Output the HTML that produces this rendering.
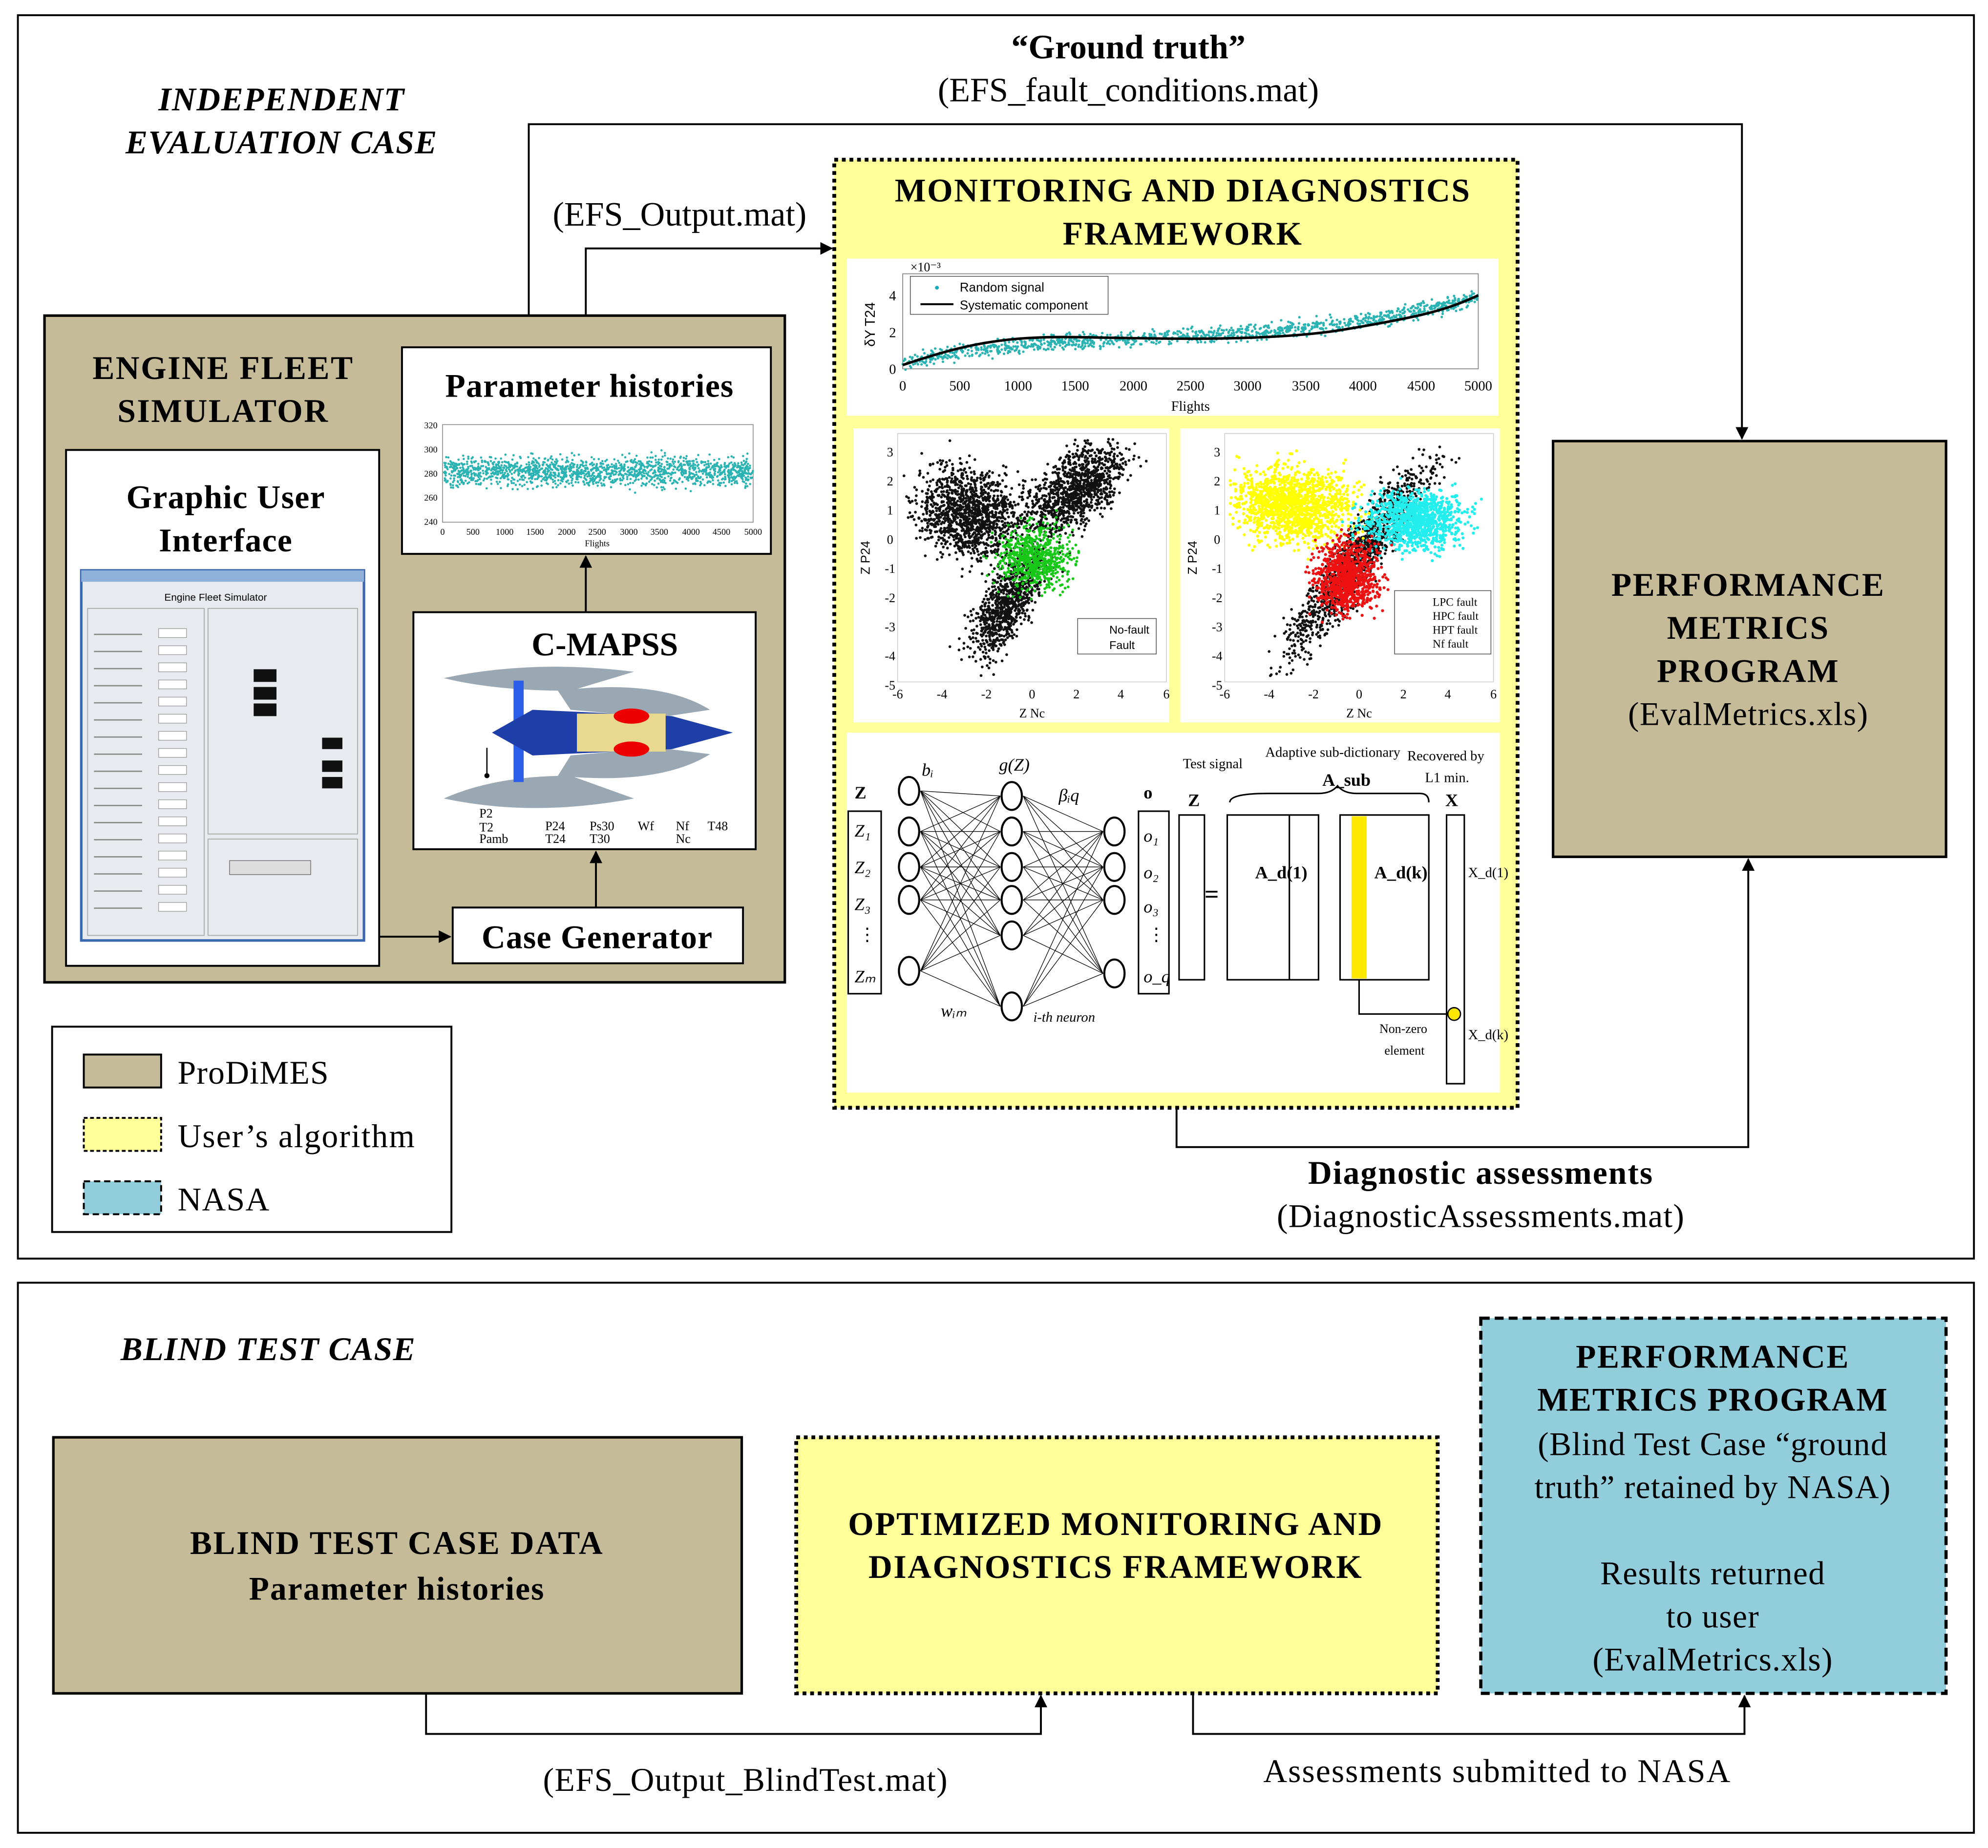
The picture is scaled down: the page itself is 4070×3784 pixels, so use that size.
<!DOCTYPE html>
<html><head><meta charset="utf-8"><style>
html,body{margin:0;padding:0;background:#fff}
svg{display:block}
text{font-family:"Liberation Serif",serif;fill:#000}
.s{font-family:"Liberation Sans",sans-serif}
</style></head><body>
<svg id="d" width="4070" height="3784" viewBox="0 0 1568 1458" xmlns="http://www.w3.org/2000/svg">
<defs>
<marker id="ar" markerWidth="10" markerHeight="10" refX="9" refY="5" orient="auto" markerUnits="userSpaceOnUse"><path d="M0,0 L10,5 L0,10 z" fill="#000"/></marker>
</defs>
<rect width="1568" height="1458" fill="#fff"/>
<rect x="14" y="12" width="1543" height="981" fill="none" stroke="#000" stroke-width="1.5"/>
<rect x="14" y="1012" width="1543" height="434" fill="none" stroke="#000" stroke-width="1.5"/>

<text x="222" y="87" font-size="26" font-weight="bold" font-style="italic" text-anchor="middle" letter-spacing="0.6">INDEPENDENT</text>
<text x="222" y="121" font-size="26" font-weight="bold" font-style="italic" text-anchor="middle" letter-spacing="0.6">EVALUATION CASE</text>
<text x="890" y="46" font-size="27" font-weight="bold" text-anchor="middle">“Ground truth”</text>
<text x="890" y="80" font-size="27" text-anchor="middle">(EFS_fault_conditions.mat)</text>
<text x="536" y="178" font-size="27" text-anchor="middle">(EFS_Output.mat)</text>

<polyline points="417,273 417,98 1374,98 1374,346" fill="none" stroke="#000" stroke-width="1.5" marker-end="url(#ar)"/>
<polyline points="462,273 462,196 656,196" fill="none" stroke="#000" stroke-width="1.5" marker-end="url(#ar)"/>
<polyline points="928,874 928,905 1379,905 1379,678" fill="none" stroke="#000" stroke-width="1.5" marker-end="url(#ar)"/>

<rect x="35" y="249" width="584" height="526" fill="#c6bb98" stroke="#000" stroke-width="2"/>
<text x="176" y="299" font-size="26" font-weight="bold" text-anchor="middle" letter-spacing="1">ENGINE FLEET</text>
<text x="176" y="333" font-size="26" font-weight="bold" text-anchor="middle" letter-spacing="1">SIMULATOR</text>
<rect x="52" y="355" width="247" height="407" fill="#fff" stroke="#000" stroke-width="1.5"/>
<text x="178" y="401" font-size="26" font-weight="bold" text-anchor="middle" letter-spacing="0.5">Graphic User</text>
<text x="178" y="435" font-size="26" font-weight="bold" text-anchor="middle" letter-spacing="0.5">Interface</text>
<g id="gui">
<rect x="64" y="450" width="223" height="292" fill="#e8eaf0" stroke="#3a68b0" stroke-width="2"/>
<rect x="64" y="450" width="223" height="9" fill="#8fb0d8"/>
<text x="170" y="474" font-size="8" class="s" text-anchor="middle">Engine Fleet Simulator</text>
<rect x="69" y="480" width="92" height="258" fill="none" stroke="#aaa" stroke-width="0.7"/>
<rect x="164" y="480" width="118" height="178" fill="none" stroke="#aaa" stroke-width="0.7"/>
<rect x="164" y="662" width="118" height="76" fill="none" stroke="#aaa" stroke-width="0.7"/>
<rect x="181" y="679" width="64" height="11" fill="#ddd" stroke="#777" stroke-width="0.6"/>
<rect x="200" y="528" width="18" height="10" fill="#111"/><rect x="200" y="542" width="18" height="10" fill="#111"/><rect x="200" y="555" width="18" height="10" fill="#111"/>
<rect x="254" y="582" width="16" height="9" fill="#111"/><rect x="254" y="600" width="16" height="9" fill="#111"/><rect x="254" y="613" width="16" height="9" fill="#111"/>
<g id="guirows"></g>
</g>
<rect x="317" y="274" width="291" height="163" fill="#fff" stroke="#000" stroke-width="1.5"/>
<text x="465" y="313" font-size="26" font-weight="bold" text-anchor="middle" letter-spacing="0.5">Parameter histories</text>
<rect x="349" y="335" width="245" height="77" fill="none" stroke="#888" stroke-width="0.6"/>
<g font-size="7" class="s">
<text x="345" y="338" text-anchor="end">320</text><text x="345" y="357" text-anchor="end">300</text><text x="345" y="376" text-anchor="end">280</text><text x="345" y="395" text-anchor="end">260</text><text x="345" y="414" text-anchor="end">240</text>
<text x="349" y="422" text-anchor="middle">0</text><text x="373" y="422" text-anchor="middle">500</text><text x="398" y="422" text-anchor="middle">1000</text><text x="422" y="422" text-anchor="middle">1500</text><text x="447" y="422" text-anchor="middle">2000</text><text x="471" y="422" text-anchor="middle">2500</text><text x="496" y="422" text-anchor="middle">3000</text><text x="520" y="422" text-anchor="middle">3500</text><text x="545" y="422" text-anchor="middle">4000</text><text x="569" y="422" text-anchor="middle">4500</text><text x="594" y="422" text-anchor="middle">5000</text>
<text x="471" y="431" text-anchor="middle">Flights</text>
</g>
<line x1="462" y1="483" x2="462" y2="439" stroke="#000" stroke-width="1.5" marker-end="url(#ar)"/>
<rect x="326" y="483" width="270" height="187" fill="#fff" stroke="#000" stroke-width="1.5"/>
<text x="477" y="517" font-size="26" font-weight="bold" text-anchor="middle">C-MAPSS</text>
<g>
<path d="M350,535 Q420,520 500,530 L450,545 Q390,545 350,535z" fill="#9aa8b4"/>
<path d="M350,630 Q420,645 500,630 L450,612 Q390,612 350,630z" fill="#9aa8b4"/>
<path d="M440,545 Q520,535 560,560 L520,566 L450,560z" fill="#9aa8b4"/>
<path d="M440,612 Q520,620 560,595 L520,590 L450,596z" fill="#9aa8b4"/>
<rect x="405" y="537" width="8" height="80" fill="#2a5ee8"/>
<path d="M388,578 L420,560 L530,565 L578,578 L530,591 L420,596z" fill="#1f3fa8"/>
<rect x="455" y="563" width="70" height="30" fill="#e8d890"/>
<ellipse cx="498" cy="565" rx="14" ry="6" fill="#e00"/><ellipse cx="498" cy="591" rx="14" ry="6" fill="#e00"/>
<line x1="384" y1="590" x2="384" y2="612" stroke="#000"/><circle cx="384" cy="612" r="2"/>
</g>
<g font-size="10" class="s">
<text x="378" y="645">P2</text><text x="378" y="656">T2</text><text x="378" y="665">Pamb</text>
<text x="430" y="655">P24</text><text x="430" y="665">T24</text>
<text x="465" y="655">Ps30</text><text x="465" y="665">T30</text>
<text x="503" y="655">Wf</text><text x="533" y="655">Nf</text><text x="533" y="665">Nc</text><text x="558" y="655">T48</text>
</g>
<line x1="470" y1="716" x2="470" y2="672" stroke="#000" stroke-width="1.5" marker-end="url(#ar)"/>
<rect x="357" y="716" width="229" height="44" fill="#fff" stroke="#000" stroke-width="1.5"/>
<text x="471" y="748" font-size="26" font-weight="bold" text-anchor="middle" letter-spacing="0.5">Case Generator</text>
<line x1="299" y1="739" x2="355" y2="739" stroke="#000" stroke-width="1.5" marker-end="url(#ar)"/>

<rect x="41" y="810" width="315" height="162" fill="#fff" stroke="#000" stroke-width="1.5"/>
<rect x="66" y="832" width="61" height="26" fill="#c6bb98" stroke="#000" stroke-width="1.5"/>
<rect x="66" y="882" width="61" height="26" fill="#ffff99" stroke="#000" stroke-width="1.5" stroke-dasharray="3,2"/>
<rect x="66" y="932" width="61" height="26" fill="#92cddc" stroke="#000" stroke-width="1.5" stroke-dasharray="5,3"/>
<text x="140" y="855" font-size="26" letter-spacing="0.5">ProDiMES</text>
<text x="140" y="905" font-size="26" letter-spacing="0.8">User’s algorithm</text>
<text x="140" y="955" font-size="26" letter-spacing="0.5">NASA</text>

<rect x="658" y="126" width="539" height="748" fill="#ffff99" stroke="#000" stroke-width="3" stroke-dasharray="3,3"/>
<text x="933" y="159" font-size="26" font-weight="bold" text-anchor="middle" letter-spacing="1">MONITORING AND DIAGNOSTICS</text>
<text x="933" y="193" font-size="26" font-weight="bold" text-anchor="middle" letter-spacing="1">FRAMEWORK</text>
<rect x="668" y="204" width="514" height="124" fill="#fff"/>
<rect x="712" y="216" width="454" height="75" fill="none" stroke="#888" stroke-width="0.7"/>
<g id="dots1"></g>
<rect x="718" y="218" width="156" height="30" fill="#fff" stroke="#555" stroke-width="0.6"/>
<text x="757" y="230" font-size="10" class="s">Random signal</text>
<text x="757" y="244" font-size="10" class="s">Systematic component</text>
<line x1="726" y1="240" x2="752" y2="240" stroke="#000" stroke-width="1.5"/>
<circle cx="739" cy="227" r="1.5" fill="#1ab"/>
<g font-size="11" class="s" text-anchor="middle">
<text x="712" y="308">0</text><text x="757" y="308">500</text><text x="803" y="308">1000</text><text x="848" y="308">1500</text><text x="894" y="308">2000</text><text x="939" y="308">2500</text><text x="984" y="308">3000</text><text x="1030" y="308">3500</text><text x="1075" y="308">4000</text><text x="1121" y="308">4500</text><text x="1166" y="308">5000</text>
<text x="939" y="324">Flights</text>
<text x="704" y="295">0</text><text x="704" y="266">2</text><text x="704" y="237">4</text>
<text x="730" y="214" font-size="10">×10⁻³</text>
</g>
<text x="690" y="256" font-size="11" class="s" transform="rotate(-90 690 256)" text-anchor="middle">δY T24</text>
<path d="M712,288 C760,272 790,265 850,266 S1000,270 1060,260 S1140,245 1166,233" fill="none" stroke="#000" stroke-width="2"/>
<rect x="673" y="338" width="249" height="232" fill="#fff"/>
<rect x="931" y="338" width="252" height="232" fill="#fff"/>
<rect x="708" y="342" width="212" height="196" fill="none" stroke="#ccc" stroke-width="0.6"/>
<rect x="966" y="342" width="212" height="196" fill="none" stroke="#ccc" stroke-width="0.6"/>
<g font-size="10" class="s" text-anchor="middle">
<text x="708" y="551">-6</text><text x="743" y="551">-4</text><text x="778" y="551">-2</text><text x="814" y="551">0</text><text x="849" y="551">2</text><text x="884" y="551">4</text><text x="920" y="551">6</text>
<text x="814" y="566">Z Nc</text>
<text x="966" y="551">-6</text><text x="1001" y="551">-4</text><text x="1036" y="551">-2</text><text x="1072" y="551">0</text><text x="1107" y="551">2</text><text x="1142" y="551">4</text><text x="1178" y="551">6</text>
<text x="1072" y="566">Z Nc</text>
<text x="702" y="360">3</text><text x="702" y="383">2</text><text x="702" y="406">1</text><text x="702" y="429">0</text><text x="702" y="452">-1</text><text x="702" y="475">-2</text><text x="702" y="498">-3</text><text x="702" y="521">-4</text><text x="702" y="544">-5</text>
<text x="960" y="360">3</text><text x="960" y="383">2</text><text x="960" y="406">1</text><text x="960" y="429">0</text><text x="960" y="452">-1</text><text x="960" y="475">-2</text><text x="960" y="498">-3</text><text x="960" y="521">-4</text><text x="960" y="544">-5</text>
</g>
<text x="686" y="440" font-size="10" class="s" transform="rotate(-90 686 440)" text-anchor="middle">Z P24</text>
<text x="944" y="440" font-size="10" class="s" transform="rotate(-90 944 440)" text-anchor="middle">Z P24</text>
<g id="dots"></g>
<rect x="850" y="488" width="62" height="28" fill="#fff" stroke="#555" stroke-width="0.6"/>
<text x="875" y="500" font-size="9" class="s">No-fault</text><text x="875" y="512" font-size="9" class="s">Fault</text>
<rect x="1100" y="466" width="76" height="50" fill="#fff" stroke="#555" stroke-width="0.6"/>
<g font-size="9" class="s"><text x="1130" y="478">LPC fault</text><text x="1130" y="489">HPC fault</text><text x="1130" y="500">HPT fault</text><text x="1130" y="511">Nf fault</text></g>
<rect x="668" y="578" width="515" height="284" fill="#fff"/>
<g id="nn" stroke="#000" fill="none" stroke-width="1.2"></g>
<g font-size="14">
<text x="674" y="630" font-weight="bold">Z</text>
<text x="674" y="660" font-style="italic">Z₁</text><text x="674" y="689" font-style="italic">Z₂</text><text x="674" y="718" font-style="italic">Z₃</text><text x="677" y="742">⋮</text><text x="674" y="775" font-style="italic">Zₘ</text>
<text x="902" y="630" font-weight="bold">o</text>
<text x="902" y="664" font-style="italic">o₁</text><text x="902" y="693" font-style="italic">o₂</text><text x="902" y="720" font-style="italic">o₃</text><text x="905" y="742">⋮</text><text x="902" y="775" font-style="italic">o_q</text>
<text x="727" y="612" font-style="italic">bᵢ</text><text x="788" y="608" font-style="italic">g(Z)</text><text x="835" y="632" font-style="italic">βᵢq</text>
<text x="742" y="802" font-style="italic">wᵢₘ</text><text x="815" y="806" font-size="11" font-style="italic">i-th neuron</text>
<text x="933" y="606" font-size="11">Test signal</text><text x="998" y="597" font-size="11">Adaptive sub-dictionary</text><text x="1110" y="600" font-size="11">Recovered by</text><text x="1124" y="617" font-size="11">L1 min.</text>
<text x="937" y="636" font-weight="bold">Z</text><text x="1043" y="620" font-weight="bold">A_sub</text><text x="1140" y="636" font-weight="bold">X</text>
<text x="950" y="712" font-size="20" font-weight="bold">=</text>
<text x="990" y="693" fill="#2a7de0" font-weight="bold">A_d(1)</text><text x="1084" y="693" fill="#2a7de0" font-weight="bold">A_d(k)</text>
<text x="1158" y="692" font-size="11">X_d(1)</text><text x="1158" y="820" font-size="11">X_d(k)</text>
<text x="1088" y="815" font-size="10">Non-zero</text><text x="1092" y="832" font-size="10">element</text>
</g>
<g stroke="#000" fill="none" stroke-width="1.2">
<rect x="669" y="640" width="26" height="144"/><rect x="898" y="640" width="24" height="144"/>
<rect x="930" y="643" width="20" height="130"/>
<rect x="968" y="643" width="72" height="130"/><line x1="1017" y1="643" x2="1017" y2="773"/>
<rect x="1057" y="643" width="70" height="130"/>
<rect x="1141" y="643" width="14" height="212"/>
<path d="M970,633 Q970,626 1000,626 L1040,626 Q1050,626 1055,620 Q1060,626 1070,626 L1120,626 Q1127,626 1127,633"/>
<polyline points="1072,773 1072,800 1143,800"/>
</g>
<rect x="1066" y="644" width="12" height="128" fill="#ffe800"/>
<circle cx="1147" cy="800" r="5" fill="#ffe800" stroke="#000"/>

<rect x="1225" y="348" width="310" height="328" fill="#c6bb98" stroke="#000" stroke-width="2"/>
<g font-size="26" text-anchor="middle">
<text x="1379" y="470" font-weight="bold" letter-spacing="1">PERFORMANCE</text>
<text x="1379" y="504" font-weight="bold" letter-spacing="1">METRICS</text>
<text x="1379" y="538" font-weight="bold" letter-spacing="1">PROGRAM</text>
<text x="1379" y="572" letter-spacing="0.5">(EvalMetrics.xls)</text>
<text x="1168" y="934" font-weight="bold" letter-spacing="0.8">Diagnostic  assessments</text>
<text x="1168" y="968" letter-spacing="0.5">(DiagnosticAssessments.mat)</text>
</g>

<text x="95" y="1073" font-size="26" font-weight="bold" font-style="italic" letter-spacing="0.6">BLIND TEST CASE</text>
<rect x="42" y="1134" width="543" height="202" fill="#c6bb98" stroke="#000" stroke-width="2"/>
<text x="313" y="1226" font-size="26" font-weight="bold" text-anchor="middle" letter-spacing="1">BLIND TEST CASE DATA</text>
<text x="313" y="1262" font-size="26" font-weight="bold" text-anchor="middle" letter-spacing="0.8">Parameter histories</text>
<rect x="628" y="1134" width="506" height="202" fill="#ffff99" stroke="#000" stroke-width="3" stroke-dasharray="3,3"/>
<text x="880" y="1211" font-size="26" font-weight="bold" text-anchor="middle" letter-spacing="1">OPTIMIZED MONITORING AND</text>
<text x="880" y="1245" font-size="26" font-weight="bold" text-anchor="middle" letter-spacing="1">DIAGNOSTICS FRAMEWORK</text>
<rect x="1168" y="1040" width="367" height="296" fill="#92cddc" stroke="#000" stroke-width="2.5" stroke-dasharray="7,4"/>
<g font-size="26" text-anchor="middle">
<text x="1351" y="1079" font-weight="bold" letter-spacing="1">PERFORMANCE</text>
<text x="1351" y="1113" font-weight="bold" letter-spacing="0.8">METRICS PROGRAM</text>
<text x="1351" y="1148" letter-spacing="0.5">(Blind Test Case “ground</text>
<text x="1351" y="1182" letter-spacing="0.5">truth” retained by NASA)</text>
<text x="1351" y="1250" letter-spacing="0.5">Results returned</text>
<text x="1351" y="1284" letter-spacing="0.5">to user</text>
<text x="1351" y="1318" letter-spacing="0.5">(EvalMetrics.xls)</text>
<text x="588" y="1413" letter-spacing="0.5">(EFS_Output_BlindTest.mat)</text>
<text x="1181" y="1406" letter-spacing="0.8">Assessments  submitted  to  NASA</text>
</g>
<polyline points="336,1336 336,1368 821,1368 821,1338" fill="none" stroke="#000" stroke-width="1.5" marker-end="url(#ar)"/>
<polyline points="941,1336 941,1368 1376,1368 1376,1338" fill="none" stroke="#000" stroke-width="1.5" marker-end="url(#ar)"/>
</svg>
<script>
(function(){
var s=12345;function r(){s=(s*16807)%2147483647;return s/2147483647;}
function n(){return (r()+r()+r()+r()-2)*1.73;}
var h="",h1="",i,t,x,y,B=null;
function dot(x,y,c,rad){if(B&&(x<B[0]||x>B[2]||y<B[1]||y>B[3]))return;h+='<circle cx="'+x.toFixed(1)+'" cy="'+y.toFixed(1)+'" r="'+rad+'" fill="'+c+'"/>';}
for(i=0;i<1600;i++){h+='<circle cx="'+(350+r()*244).toFixed(1)+'" cy="'+(372+n()*5.5).toFixed(1)+'" r="0.9" fill="#2bb3b3"/>';}
var hp=h;h="";
for(i=0;i<1200;i++){t=r();x=712+t*454;var base=288-((1-Math.exp(-t*6))*22+Math.pow(t,4)*32);y=base+n()*3;dot(x,y,"#2bb3b3",1);}
h1=h;h="";
function cl(cx,cy,sx,sy,rot,N,c,rad){var cr=Math.cos(rot),sr=Math.sin(rot);for(var k=0;k<N;k++){var a=n()*sx,b=n()*sy;dot(cx+a*cr-b*sr,cy+a*sr+b*cr,c,rad);}}
B=[712,346,916,534];
cl(765,405,20,16,0.35,1300,"#111",1.1);
cl(850,385,22,12,-0.7,1100,"#111",1.1);
cl(795,475,24,9,-1.05,900,"#111",1.1);
cl(815,440,14,13,0,700,"#18c818",1.1);
B=[970,346,1174,534];
cl(1072,440,46,8,-0.95,1300,"#111",1.1);
cl(1020,398,24,14,0.1,1400,"#ff0",1.2);
cl(1115,410,19,12,0,1100,"#2ee",1.2);
cl(1062,455,12,14,0.2,900,"#e11",1.2);
document.getElementById("dots").innerHTML=h;
document.getElementById("dots1").innerHTML=h1+hp;
var gr="";for(i=0;i<17;i++){var yy=500+i*13.5;gr+='<rect x="74" y="'+yy+'" width="38" height="1" fill="#888"/><rect x="125" y="'+(yy-4)+'" width="22" height="7" fill="#fff" stroke="#999" stroke-width="0.5"/>';}
document.getElementById("guirows").innerHTML=gr;
var nn=document.getElementById("nn"),q="";
var L1=[[717,624],[717,656],[717,684],[717,710],[717,766]],L2=[[798,628],[798,656],[798,684],[798,710],[798,738],[798,794]],L3=[[879,656],[879,684],[879,710],[879,768]];
L1.forEach(function(a){L2.forEach(function(b){q+='<line x1="'+(a[0]+9)+'" y1="'+a[1]+'" x2="'+(b[0]-9)+'" y2="'+b[1]+'" stroke-width="0.5"/>';});});
L2.forEach(function(a){L3.forEach(function(b){q+='<line x1="'+(a[0]+9)+'" y1="'+a[1]+'" x2="'+(b[0]-9)+'" y2="'+b[1]+'" stroke-width="0.5"/>';});});
L1.concat(L2,L3).forEach(function(a){q+='<ellipse cx="'+a[0]+'" cy="'+a[1]+'" rx="8" ry="11" fill="#fff" stroke-width="1.6"/>';});
nn.innerHTML=q;
})();
</script>
</body></html>
